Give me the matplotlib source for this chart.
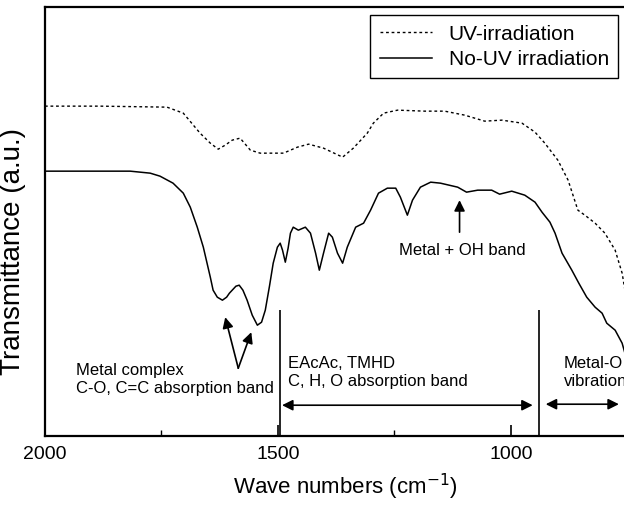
import matplotlib
matplotlib.use("Agg")
import matplotlib.pyplot as plt
from matplotlib.ticker import MultipleLocator

plt.rcParams['font.family'] = ['Liberation Sans', 'DejaVu Sans']

# UV-irradiated film (dashed), wavenumber vs transmittance (a.u.)
uv_wn = [2000, 1882, 1738, 1703, 1667, 1645, 1628, 1613, 1598, 1581, 1559, 1538, 1488,
         1458, 1434, 1402, 1361, 1338, 1308, 1295, 1273, 1243, 1185, 1142, 1099,
         1056, 1019, 976, 948, 927, 899, 877, 856, 841, 819, 798, 776, 761, 755]
uv_t = [330, 330, 329, 323, 303, 293, 287, 291, 296, 298, 286, 283, 283,
        289, 292, 288, 279, 288, 303, 313, 323, 326, 325, 325, 321,
        315, 316, 313, 304, 293, 276, 256, 226, 221, 213, 203, 186, 163, 146]

# film without UV (solid)
no_uv_wn = [2000, 1817, 1774, 1753, 1725, 1703, 1688, 1673, 1660, 1645, 1639, 1630,
            1619, 1610, 1604, 1590, 1583, 1575, 1566, 1555, 1544, 1535, 1527, 1518,
            1510, 1501, 1495, 1490, 1484, 1478, 1473, 1467,
            1456, 1441, 1430, 1419, 1411, 1402, 1391, 1383, 1372, 1361, 1351, 1333,
            1316, 1301, 1284, 1265, 1247, 1237, 1222, 1211, 1194, 1172, 1151, 1114,
            1095, 1071, 1041, 1024, 998, 970, 948, 933, 916, 905, 890, 869,
            854, 837, 819, 804, 794, 776, 761, 755]
no_uv_t = [265, 265, 263, 260, 253, 243, 229, 209, 189, 159, 146, 139,
           136, 139, 143, 150, 151, 146, 136, 121, 111, 114, 126, 150,
           173, 189, 193, 186, 174, 188, 203, 209,
           206, 209, 203, 183, 166, 183, 203, 199, 183, 173, 189, 209,
           213, 226, 243, 248, 248, 239, 221, 236, 249, 254, 253, 249,
           244, 246, 246, 242, 245, 241, 234, 224, 214, 203, 183, 166,
           153, 139, 129, 123, 113, 106, 93, 83]

band_edges = [1496, 940]

fig = plt.figure(figsize=(6.24, 5.09), dpi=100)
ax = fig.add_axes([0.072, 0.143, 0.928, 0.843])

ax.plot(uv_wn, uv_t, color='black', lw=1.0, linestyle=(0, (2, 2)), label='UV-irradiation')
ax.plot(no_uv_wn, no_uv_t, color='black', lw=1.1, label='No-UV irradiation')

ax.set_xlim(2000, 757)
ax.set_ylim(0, 429)
ax.xaxis.set_major_locator(MultipleLocator(500))
ax.xaxis.set_minor_locator(MultipleLocator(250))
ax.tick_params(axis='x', which='major', direction='in', length=8, width=1.2,
               labelsize=14, pad=7)
ax.tick_params(axis='x', which='minor', direction='in', length=4, width=1)
ax.set_yticks([])
for s in ['left', 'bottom', 'top']:
    ax.spines[s].set_linewidth(1.6)
ax.spines['right'].set_visible(False)

ax.set_xlabel('Wave numbers (cm$^{-1}$)', fontsize=16)
ax.set_ylabel('Transmittance (a.u.)', fontsize=20)
ax.xaxis.set_label_coords(0.518, -0.082)
ax.yaxis.set_label_coords(-0.032, 0.43)

leg = ax.legend(loc='upper right', bbox_to_anchor=(0.99, 0.981), fontsize=15,
                frameon=True, fancybox=False, edgecolor='black', framealpha=1,
                handlelength=2.5, borderaxespad=0, borderpad=0.45, labelspacing=0.3)
leg.get_frame().set_linewidth(1.0)

# band separators
ax.vlines(band_edges, 0, 126, color='black', lw=1.2)

arrow_kw = dict(arrowstyle='<|-|>', color='black', lw=1.2, mutation_scale=16,
                shrinkA=0, shrinkB=0)
ax.annotate('', xy=(1491, 31), xytext=(953, 31), arrowprops=arrow_kw)
ax.annotate('', xy=(925, 32), xytext=(768, 32), arrowprops=arrow_kw)

one_kw = dict(arrowstyle='-|>', color='black', lw=1.2, mutation_scale=16,
              shrinkA=0, shrinkB=0)
ax.annotate('', xy=(1613, 119), xytext=(1585, 68), arrowprops=one_kw)
ax.annotate('', xy=(1557, 104), xytext=(1585, 68), arrowprops=one_kw)
ax.annotate('', xy=(1110, 236), xytext=(1110, 204), arrowprops=one_kw)

ax.text(1933, 57, 'Metal complex\nC-O, C=C absorption band', fontsize=12,
        ha='left', va='center', linespacing=1.25)
ax.text(1479, 64, 'EAcAc, TMHD\nC, H, O absorption band', fontsize=12,
        ha='left', va='center', linespacing=1.25)
ax.text(886, 64, 'Metal-O\nvibration', fontsize=12,
        ha='left', va='center', linespacing=1.25)
ax.text(1105, 186, 'Metal + OH band', fontsize=12, ha='center', va='center')

fig.savefig('out.png', dpi=100)
